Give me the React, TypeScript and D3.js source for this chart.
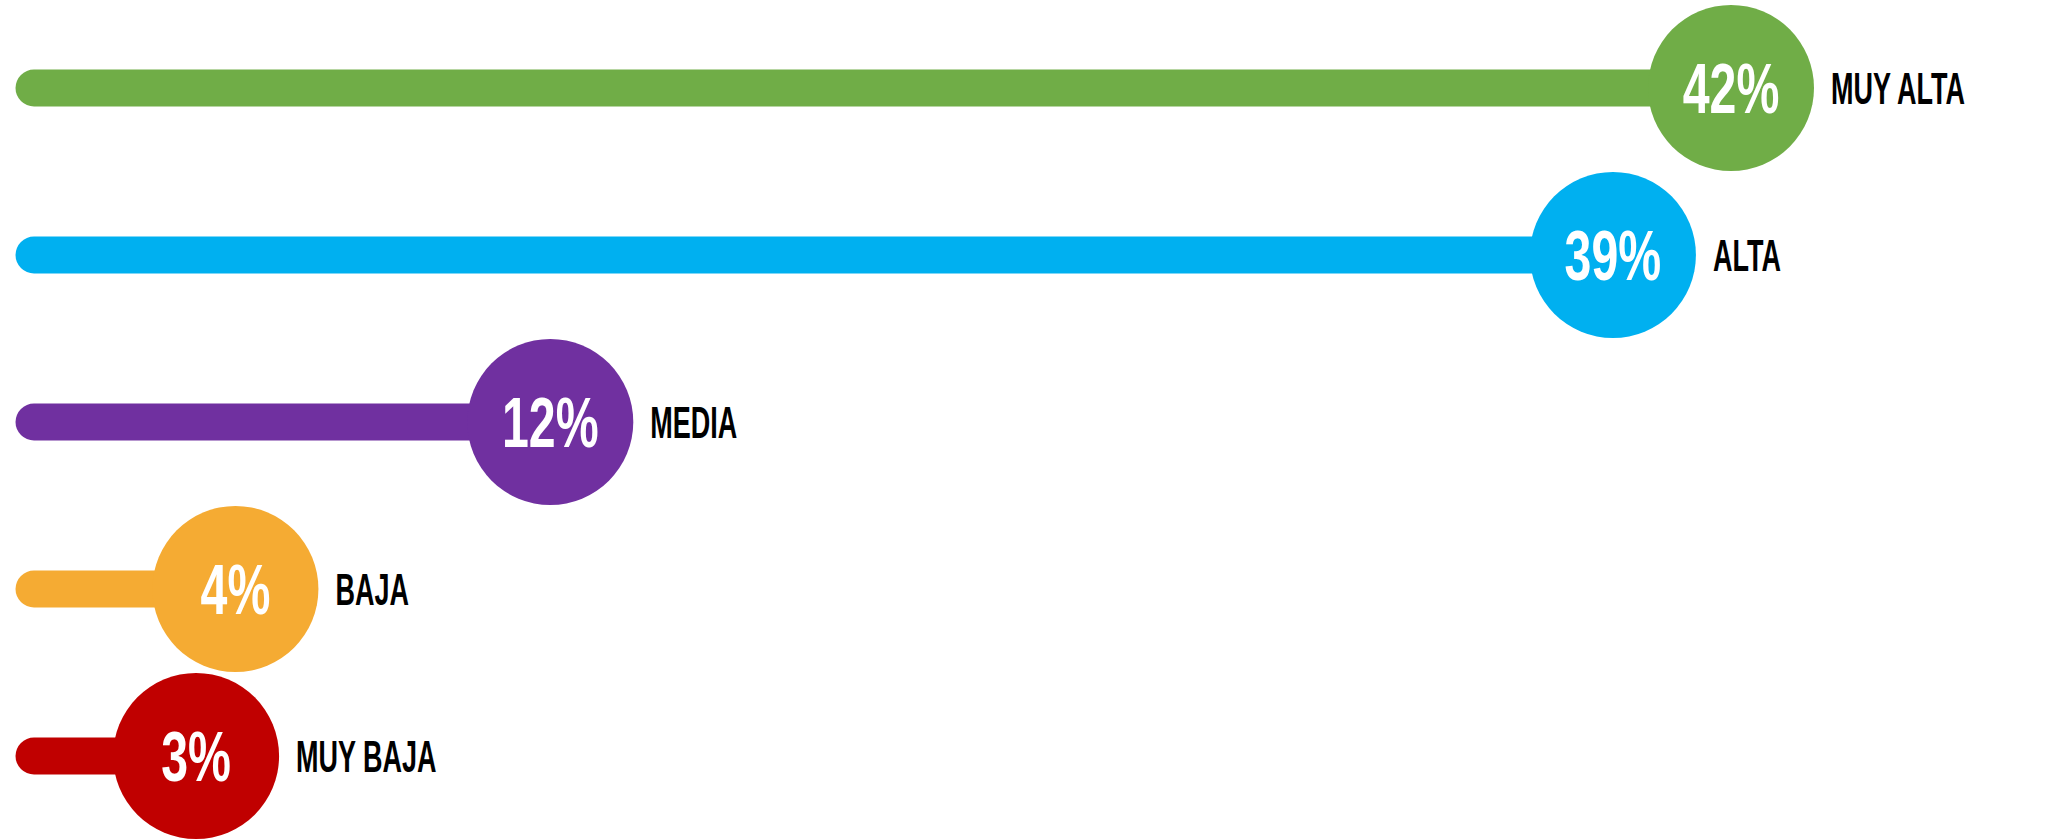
import React from "react";
import * as d3 from "d3";

const categories: string[] = ["MUY ALTA", "ALTA", "MEDIA", "BAJA", "MUY BAJA"];
const values: number[] = [42, 39, 12, 4, 3];
const colors: string[] = ["#70AD47", "#00B0F0", "#7030A0", "#F5AB33", "#C00000"];

const W = 2055;
const H = 839;
const R = 83;
const BAR_W = 37;
const BAR_X0 = 34;

export default function App() {
  const x = d3.scaleLinear().domain([0, d3.max(values) as number]).range([78, 1731]);
  const y = d3.scalePoint<string>().domain(categories).range([88, 756]);
  const font = "'Liberation Sans', Arial, sans-serif";

  return (
    <svg
      width={W}
      height={H}
      style={{ position: "absolute", left: 0, top: 0, background: "#fff" }}
    >
      {categories.map((c, i) => {
        const cx = x(values[i]);
        const cy = y(c) as number;
        return (
          <g key={c}>
            <line
              x1={BAR_X0}
              x2={cx}
              y1={cy}
              y2={cy}
              stroke={colors[i]}
              strokeWidth={BAR_W}
              strokeLinecap="round"
            />
            <circle cx={cx} cy={cy} r={R} fill={colors[i]} />
            <text
              transform={`translate(${cx},${cy + 25}) scale(0.69,1)`}
              textAnchor="middle"
              fill="#fff"
              fontFamily={font}
              fontWeight="bold"
              fontSize={70}
            >
              {values[i]}%
            </text>
            <text
              transform={`translate(${cx + R + 17},${cy + 16}) scale(0.6,1)`}
              textAnchor="start"
              fill="#000"
              fontFamily={font}
              fontWeight="bold"
              fontSize={45}
            >
              {c}
            </text>
          </g>
        );
      })}
    </svg>
  );
}
